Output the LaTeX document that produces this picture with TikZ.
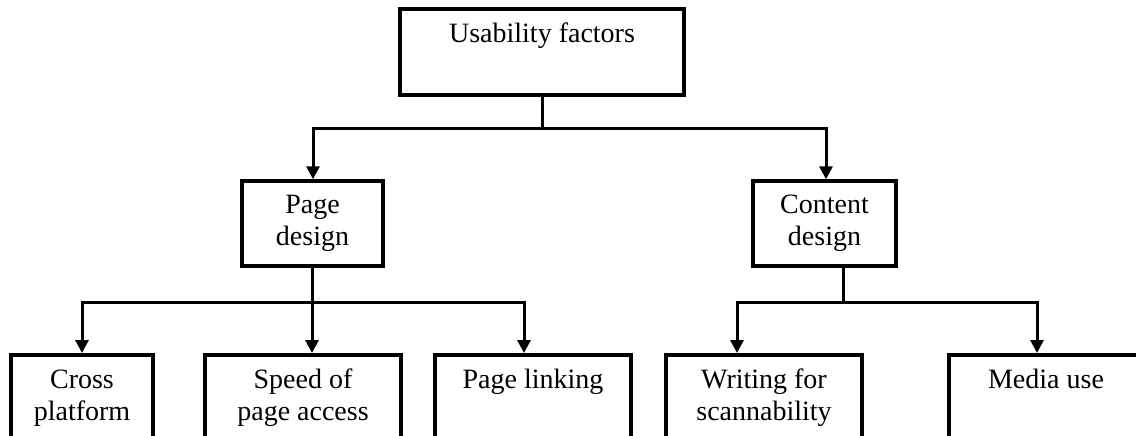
\documentclass[tikz,border=0pt]{standalone}
\usepackage{fontspec}
\setmainfont{Liberation Serif}
\usetikzlibrary{arrows.meta}
\begin{document}
\begin{tikzpicture}[x=1pt,y=1pt,
  box/.style={draw=black, line width=3.5pt, rectangle, inner sep=0pt, fill=white},
  txt/.style={font=\fontsize{28}{32}\selectfont, align=center, inner sep=0pt, text=black},
  conn/.style={draw=black, line width=3pt, line join=miter},
  arr/.style={conn, -{Triangle[length=13pt,width=13pt]}}]
\useasboundingbox (0,0) rectangle (1136,-436);
\clip (0,0) rectangle (1136,-436);
\fill[white] (0,0) rectangle (1136,-436);
% boxes
\node[box, minimum width=284, minimum height=86] (top) at (542,-52) {};
\node[txt, anchor=base] (topt) at (542,-43) {Usability factors};
\node[box, minimum width=141, minimum height=85, txt] (pd) at (312.5,-223.5) {Page\\design};
\node[box, minimum width=143, minimum height=85, txt] (cd) at (824.5,-223.5) {Content\\design};
\node[box, minimum width=142, minimum height=120, anchor=north] (cross) at (82,-353) {};
\node[box, minimum width=196, minimum height=120, anchor=north] (speed) at (303,-353) {};
\node[box, minimum width=196, minimum height=120, anchor=north] (plink) at (533,-353) {};
\node[box, minimum width=196, minimum height=120, anchor=north] (write) at (764,-353) {};
\node[box, minimum width=194, minimum height=120, anchor=north] (media) at (1046,-353) {};
\node[txt, anchor=base] (crosst) at (82,-420) {Cross\\platform};
\node[txt, anchor=base] (speedt) at (303,-420) {Speed of\\page access};
\node[txt, anchor=base] (plinkt) at (533,-388) {Page linking};
\node[txt, anchor=base] (writet) at (764,-420) {Writing for\\scannability};
\node[txt, anchor=base] (mediat) at (1046,-388) {Media use};
% bus coordinates
\coordinate (a0) at (542,-128);
\coordinate (a1) at (313,-128);
\coordinate (a2) at (826,-128);
\coordinate (b0) at (312,-302);
\coordinate (b1) at (82,-302);
\coordinate (b3) at (524,-302);
\coordinate (c0) at (843,-302);
\coordinate (c1) at (737,-302);
\coordinate (c2) at (1037,-302);
% connectors
\draw[conn] (top.south) -- (a0);
\draw[arr] (a0) -- (a1) -- (pd.north -| a1);
\draw[arr] (a0) -- (a2) -- (cd.north -| a2);
\draw[arr] (pd.south -| b0) -- (speed.north -| b0);
\draw[arr] (b0) -- (b1) -- (cross.north -| b1);
\draw[arr] (b0) -- (b3) -- (plink.north -| b3);
\draw[conn] (cd.south -| c0) -- (c0);
\draw[arr] (c0) -- (c1) -- (write.north -| c1);
\draw[arr] (c0) -- (c2) -- (media.north -| c2);
\end{tikzpicture}
\end{document}
